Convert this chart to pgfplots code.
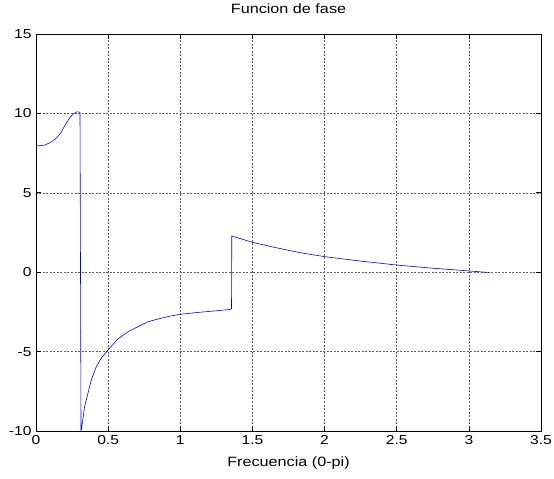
\documentclass[border=0pt]{standalone}
\usepackage{pgfplots}
\pgfplotsset{compat=1.18}
\usepackage{fontspec}
\setmainfont{Liberation Sans}[FakeStretch=1.2]
\begin{document}
\begin{tikzpicture}
\path[use as bounding box] (-36pt,-48pt) rectangle (518pt,431pt);
\begin{axis}[
  scale only axis,
  width=505pt, height=397pt,
  xmin=0, xmax=3.5, ymin=-10, ymax=15,
  xtick={0,0.5,1,1.5,2,2.5,3,3.5},
  ytick={-10,-5,0,5,10,15},
  xticklabels={0,0.5,1,1.5,2,2.5,3,3.5},
  yticklabels={-10,-5,0,5,10,15},
  tick align=inside,
  major tick length=5pt,
  tick style={black, line width=0.6pt},
  axis line style={black, line width=0.8pt},
  grid=major,
  major grid style={gray!75!black, line width=0.5pt, dash pattern=on 2pt off 1.5pt},
  ticklabel style={font=\fontsize{13}{15}\selectfont},
  xticklabel style={yshift=-1pt},
  yticklabel style={xshift=-1pt},
  /pgf/number format/assume math mode=true,
  title={Funcion de fase},
  title style={font=\fontsize{13.5}{16}\selectfont, at={(axis description cs:0.5,1)}, anchor=center, yshift=19pt},
  xlabel={Frecuencia (0-pi)},
  xlabel style={font=\fontsize{13.5}{16}\selectfont, at={(axis description cs:0.5,0)}, anchor=center, yshift=-32pt},
]
\addplot[blue, line width=0.6pt] coordinates {
(0,7.95) (0.03,7.97) (0.062,8.01) (0.097,8.16) (0.132,8.37) (0.166,8.68)
(0.189,9.06) (0.212,9.41) (0.236,9.75) (0.258,9.96) (0.282,10.09) (0.296,10.1) (0.305,10.05)
(0.312,-10) (0.314,-9.94) (0.337,-8.47) (0.36,-7.63) (0.383,-6.79) (0.418,-5.95)
(0.452,-5.42) (0.499,-4.9) (0.568,-4.2) (0.638,-3.75) (0.707,-3.43) (0.776,-3.12)
(0.845,-2.95) (0.92,-2.78) (1.0,-2.65)
(1.137,-2.52) (1.25,-2.43) (1.345,-2.35) (1.355,-2.3)
(1.357,2.28) (1.5,1.88) (1.65,1.57) (1.83,1.23) (2.0,0.98) (2.25,0.7)
(2.5,0.45) (2.75,0.25) (3.0,0.08) (3.14,-0.02)
};
\end{axis}
\end{tikzpicture}
\end{document}
